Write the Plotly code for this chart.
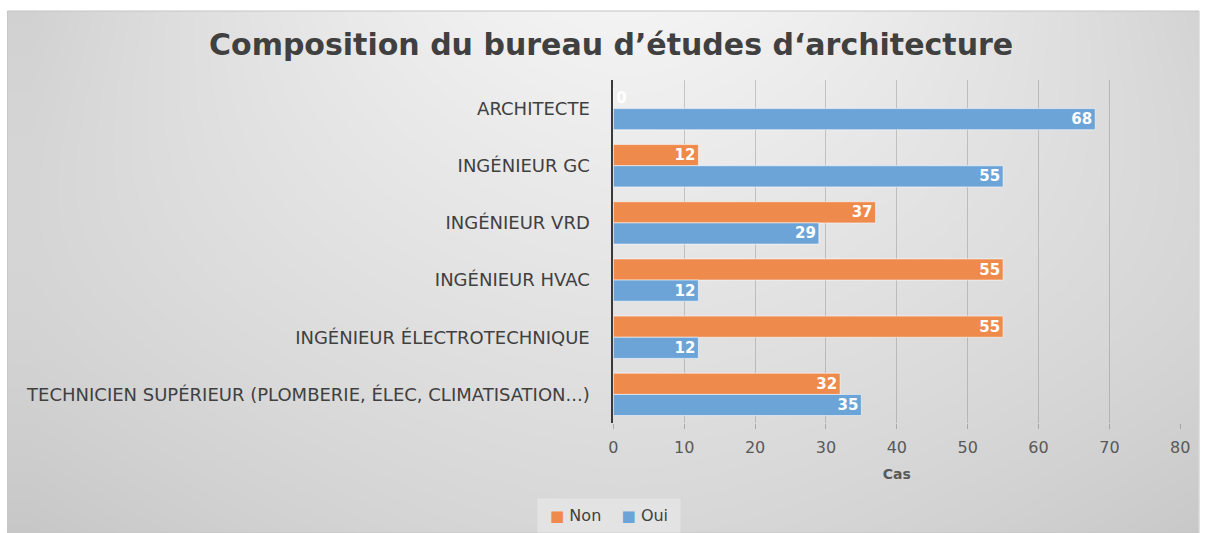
import numpy as np
import plotly.graph_objects as go

# Data
categories = [
    "ARCHITECTE",
    "INGÉNIEUR GC",
    "INGÉNIEUR VRD",
    "INGÉNIEUR HVAC",
    "INGÉNIEUR ÉLECTROTECHNIQUE",
    "TECHNICIEN SUPÉRIEUR (PLOMBERIE, ÉLEC, CLIMATISATION...)",
]
non_values = [0, 12, 37, 55, 55, 32]
oui_values = [68, 55, 29, 12, 12, 35]
x_ticks = [0, 10, 20, 30, 40, 50, 60, 70, 80]

W, H = 1209, 533
FONT = "DejaVu Sans"
TEXT = "#404040"

# Frame (chart area) in pixels
fx0, fy0 = 2.6, 11

# Plot area in pixels
px0, px1 = 616, 1190
py0, py1 = 80, 423


def pxx(x):
    return x / W


def pxy(y):
    return 1 - y / H


# Soft gray background shading for the chart area
nu, nv = 160, 80
u = np.linspace(0, 1, nu)
v = np.linspace(0, 1, nv)  # 0 = top, 1 = bottom
U, V = np.meshgrid(u, v)
center = 243 - 28 * V
edge = 209 + 6 * np.sin(np.pi * V) - 10 * V ** 2
bump = 1 - np.clip(np.abs(2 * (U - 0.52)) / 1.0, 0, 1) ** 1.6
shade = edge + (center - edge) * bump
shade = shade[::-1]  # heatmap rows go bottom -> top

fig = go.Figure()

fig.add_trace(go.Heatmap(
    z=shade, x=u, y=v,
    colorscale=[[0, "rgb(0,0,0)"], [1, "rgb(255,255,255)"]],
    zmin=0, zmax=255, zsmooth="best", showscale=False,
    hoverinfo="skip", xaxis="x", yaxis="y",
))

orange = "#EE8A4C"
blue = "#6CA4D8"
label_font = dict(family=FONT, size=15, color="white", weight="bold")


def positions(vals):
    return ["outside" if val == 0 else "inside" for val in vals]


for name, vals, color in (("Non", non_values, orange), ("Oui", oui_values, blue)):
    fig.add_trace(go.Bar(
        name=name, y=categories, x=vals, orientation="h",
        marker=dict(color=color, line=dict(color="rgba(255,255,255,0.55)", width=1)),
        text=[str(val) for val in vals], textposition=positions(vals),
        textangle=0, insidetextanchor="end",
        textfont=label_font, outsidetextfont=label_font,
        constraintext="none", cliponaxis=False,
        xaxis="x2", yaxis="y2", showlegend=False,
    ))

NB = "\u00a0"
legend_text = (
    f"{NB}<span style='color:{orange};font-size:15px'>■</span>{NB}Non{NB * 4}"
    f"<span style='color:{blue};font-size:15px'>■</span>{NB}Oui{NB}"
)

fig.update_layout(
    width=W, height=H,
    margin=dict(l=0, r=0, t=0, b=0),
    paper_bgcolor="white",
    plot_bgcolor="rgba(0,0,0,0)",
    font=dict(family=FONT, color=TEXT),
    barmode="group",
    bargap=0.26,
    bargroupgap=0.0,
    showlegend=False,
    xaxis=dict(domain=[pxx(fx0), 1], range=[0, 1], visible=False, fixedrange=True),
    yaxis=dict(domain=[0, pxy(fy0)], range=[0, 1], visible=False, fixedrange=True),
    xaxis2=dict(
        domain=[pxx(px0), pxx(px1)], range=[0, 80], anchor="y2",
        tickvals=x_ticks, ticktext=[str(t) for t in x_ticks],
        showgrid=True, gridcolor="rgba(120,120,120,0.35)", gridwidth=1,
        zeroline=False, showline=False,
        ticks="outside", ticklen=5, tickcolor="rgba(120,120,120,0.5)",
        ticklabelstandoff=5,
        tickfont=dict(family=FONT, size=16, color="#595959"),
        title=dict(text="<b>Cas</b>", font=dict(family=FONT, size=14, color="#595959"), standoff=12),
    ),
    yaxis2=dict(
        domain=[pxy(py1), pxy(py0)], anchor="x2",
        categoryorder="array", categoryarray=categories, autorange="reversed",
        showline=True, linecolor="#3a3a3a", linewidth=2,
        showgrid=False, ticks="", ticklabelstandoff=18,
        tickfont=dict(family=FONT, size=18, color=TEXT),
    ),
    annotations=[
        dict(
            text="<b>Composition du bureau d’études d‘architecture</b>",
            x=pxx(614), y=pxy(45), xref="paper", yref="paper",
            xanchor="center", yanchor="middle", showarrow=False,
            font=dict(family=FONT, size=30, color="#404040"),
        ),
        dict(
            text=legend_text,
            x=pxx(612), y=pxy(515), xref="paper", yref="paper",
            xanchor="center", yanchor="middle", showarrow=False,
            font=dict(family=FONT, size=16, color=TEXT),
            bgcolor="#e3e3e3", borderpad=7,
        ),
    ],
    shapes=[dict(
        type="rect", xref="paper", yref="paper",
        x0=pxx(fx0), x1=1, y0=0, y1=pxy(fy0),
        line=dict(color="#c4c4c4", width=1), fillcolor="rgba(0,0,0,0)",
        layer="above",
    )],
)

fig.write_html("out.html")
